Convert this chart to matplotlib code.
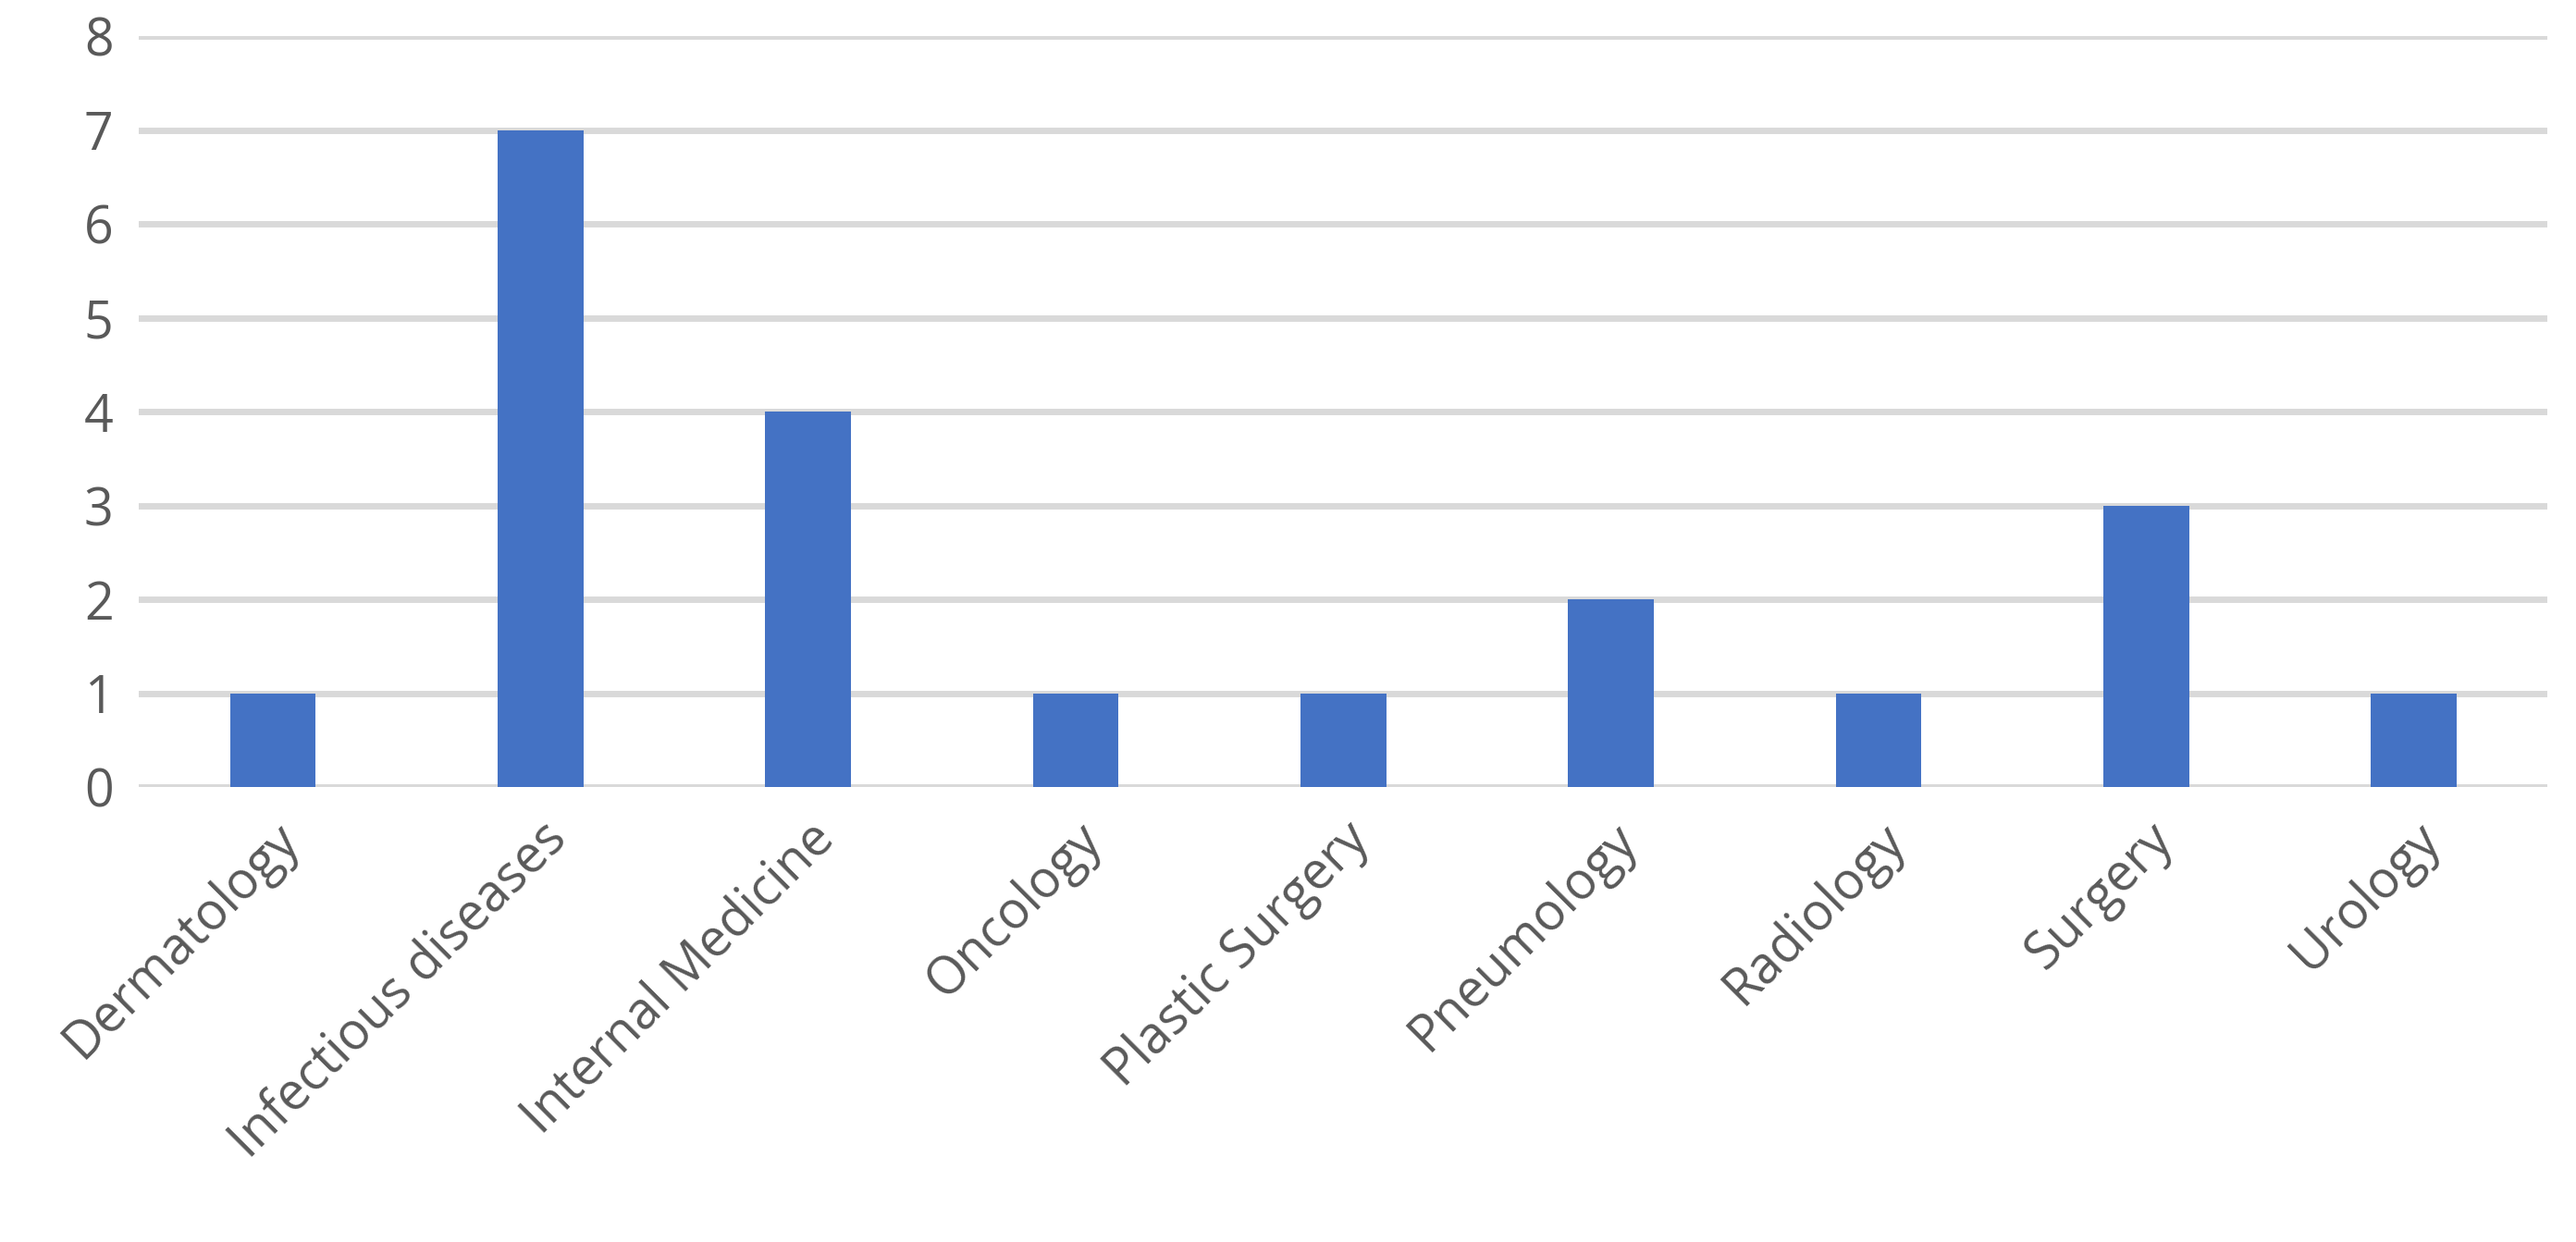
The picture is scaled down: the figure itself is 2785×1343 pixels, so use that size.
import matplotlib
matplotlib.use("Agg")
import matplotlib.pyplot as plt

categories = ["Dermatology", "Infectious diseases", "Internal Medicine", "Oncology",
              "Plastic Surgery", "Pneumology", "Radiology", "Surgery", "Urology"]
values = [1, 7, 4, 1, 1, 2, 1, 3, 1]
yticks = [0, 1, 2, 3, 4, 5, 6, 7, 8]

plt.rcParams['font.family'] = ['Open Sans', 'DejaVu Sans']
fig = plt.figure(figsize=(27.85, 13.43), dpi=100)
ax = fig.add_axes([0.054, 0.366, 0.935, 0.605])
x = range(len(categories))
ax.bar(x, values, width=0.32, color="#4472C4", zorder=3)
ax.set_ylim(0, 8)
ax.set_xlim(-0.5, len(categories) - 0.5)
ax.set_yticks(yticks)
ax.set_yticklabels([str(t) for t in yticks], fontsize=40, color="#595959")
ax.set_xticks(list(x))
ax.set_xticklabels(categories, rotation=45, ha="right", rotation_mode="anchor",
                   fontsize=40, color="#595959")
ax.yaxis.grid(True, color="#D9D9D9", linewidth=5, zorder=0)
for s in ax.spines.values():
    s.set_visible(False)
ax.tick_params(length=0, pad=20)
fig.savefig("out.png", dpi=100)
